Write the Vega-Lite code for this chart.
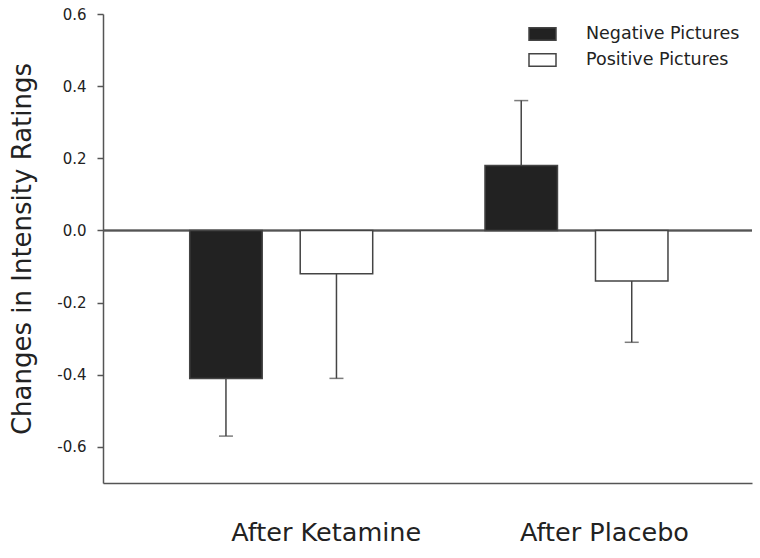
{
  "$schema": "https://vega.github.io/schema/vega-lite/v6.json",
  "width": 649,
  "height": 469,
  "autosize": {"type": "none"},
  "padding": {"left": 103, "top": 14, "right": 8, "bottom": 75},
  "background": "white",
  "config": {"view": {"stroke": null}, "font": "DejaVu Sans"},
  "data": {
    "values": [
      {"condition": "After Ketamine", "pictures": "Negative Pictures", "mean": -0.41, "errEnd": -0.57},
      {"condition": "After Ketamine", "pictures": "Positive Pictures", "mean": -0.12, "errEnd": -0.41},
      {"condition": "After Placebo", "pictures": "Negative Pictures", "mean": 0.18, "errEnd": 0.36},
      {"condition": "After Placebo", "pictures": "Positive Pictures", "mean": -0.14, "errEnd": -0.31}
    ]
  },
  "encoding": {
    "x": {
      "field": "condition",
      "type": "nominal",
      "sort": ["After Ketamine", "After Placebo"],
      "scale": {"paddingInner": 0, "paddingOuter": 0.099, "align": 0.523},
      "axis": {
        "title": null,
        "orient": "bottom",
        "ticks": false,
        "labelAngle": 0,
        "labelLimit": 0,
        "labelFont": "DejaVu Sans",
        "labelFontSize": 25.5,
        "labelColor": "#222",
        "labelPadding": 37,
        "labelOffset": {"expr": "datum.value === 'After Ketamine' ? 45 : 28"},
        "domainColor": "#555",
        "domainWidth": 1.5,
        "grid": false
      }
    },
    "xOffset": {
      "field": "pictures",
      "type": "nominal",
      "sort": ["Negative Pictures", "Positive Pictures"],
      "scale": {"paddingInner": 0.344, "paddingOuter": 0.508}
    },
    "y": {
      "field": "mean",
      "type": "quantitative",
      "scale": {"domain": [-0.7, 0.6], "nice": false, "zero": false},
      "axis": {
        "values": [-0.6, -0.4, -0.2, 0, 0.2, 0.4, 0.6],
        "grid": false,
        "domainColor": "#555",
        "domainWidth": 1.5,
        "tickColor": "#555",
        "tickWidth": 1.5,
        "tickSize": 6,
        "labelPadding": 11,
        "labelFont": "DejaVu Sans",
        "labelFontSize": 15,
        "labelColor": "#222",
        "labelExpr": "replace(format(datum.value, '.1f'), '\u2212', '-')",
        "title": "Changes in Intensity Ratings",
        "titleFont": "DejaVu Sans",
        "titleFontSize": 26,
        "titleFontWeight": "normal",
        "titleColor": "#222",
        "titlePadding": 21
      }
    }
  },
  "layer": [
    {
      "mark": {"type": "rule", "color": "#555", "strokeWidth": 1.5},
      "encoding": {"y": {"datum": 0, "type": "quantitative"}, "x": null, "xOffset": null}
    },
    {
      "mark": {"type": "bar", "stroke": "#444", "strokeWidth": 1.5},
      "encoding": {
        "fill": {
          "field": "pictures",
          "type": "nominal",
          "sort": ["Negative Pictures", "Positive Pictures"],
          "scale": {"range": ["#222222", "#ffffff"]},
          "legend": {
            "title": null,
            "orient": "none",
            "legendX": 428.5,
            "legendY": 9,
            "symbolType": "M-1.35,-0.63H1.35V0.63H-1.35Z",
            "symbolSize": 400,
            "symbolStrokeColor": "#444",
            "symbolStrokeWidth": 1.5,
            "symbolOpacity": 1,
            "labelFont": "DejaVu Sans",
            "labelFontSize": 17.5,
            "labelColor": "#222",
            "labelOffset": 32.5,
            "labelLimit": 0,
            "rowPadding": 5,
            "padding": 0
          }
        }
      }
    },
    {
      "mark": {"type": "rule", "color": "#444", "strokeWidth": 1.5},
      "encoding": {"y2": {"field": "errEnd"}}
    },
    {
      "mark": {"type": "tick", "orient": "horizontal", "color": "#444", "thickness": 1.5, "size": 14},
      "encoding": {"y": {"field": "errEnd", "type": "quantitative"}}
    }
  ]
}
